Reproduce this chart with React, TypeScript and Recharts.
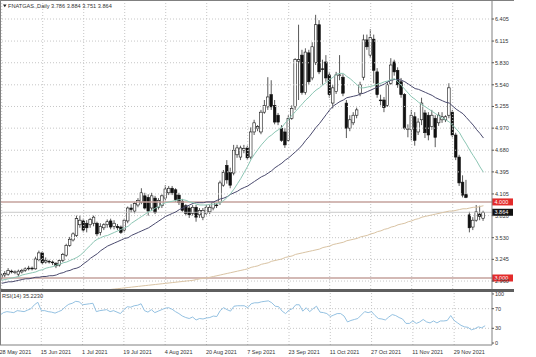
import { Bar, ComposedChart, Line, ReferenceLine, XAxis, YAxis } from "recharts"

// daily bars, 28 May 2021 .. 10 Dec 2021
const opens = [
  3.0, 3.04, 3.05, 3.09, 3.07, 3.05, 3.08, 3.1, 3.12, 3.13,
  3.12, 3.24, 3.33, 3.21, 3.22, 3.21, 3.19, 3.17, 3.23, 3.3,
  3.43, 3.5, 3.56, 3.7, 3.75, 3.72, 3.7, 3.72, 3.72, 3.6,
  3.66, 3.7, 3.75, 3.68, 3.68, 3.67, 3.63, 3.75, 3.92, 3.88,
  3.96, 3.99, 4.08, 4.06, 3.92, 4.05, 3.93, 3.95, 4.05, 4.12,
  4.18, 4.16, 4.09, 4.01, 3.95, 3.92, 3.85, 3.93, 3.83, 3.8,
  3.85, 3.87, 3.92, 3.96, 3.99, 4.22, 4.48, 4.39, 4.38, 4.62,
  4.59, 4.68, 4.71, 4.59, 4.92, 4.97, 4.92, 5.18, 5.25, 5.41,
  5.27, 5.14, 4.97, 4.92, 4.81, 5.1, 5.25, 5.85, 5.93, 5.44,
  5.96, 5.63, 5.83, 6.33, 5.75, 5.84, 5.67, 5.3, 5.45, 5.66,
  5.64, 5.3, 4.97, 5.04, 5.14, 5.43, 5.64, 6.13, 5.93, 6.14,
  5.71, 5.34, 5.34, 5.27, 5.56, 5.84, 5.73, 5.58, 5.41, 4.95,
  4.95, 5.12, 4.92, 5.08, 5.17, 5.14, 4.99, 5.1, 5.04, 5.08,
  5.08, 5.14, 5.18, 4.88, 4.59, 4.26, 4.1, 3.83, 3.67, 3.76,
  3.84, 3.786,
]
const highs = [
  3.06, 3.09, 3.13, 3.11, 3.1, 3.11, 3.12, 3.14, 3.16, 3.15,
  3.28, 3.36, 3.35, 3.27, 3.24, 3.23, 3.21, 3.25, 3.33, 3.45,
  3.54, 3.6, 3.82, 3.82, 3.78, 3.76, 3.79, 3.82, 3.74, 3.72,
  3.72, 3.77, 3.78, 3.76, 3.71, 3.69, 3.78, 3.94, 3.97, 4.0,
  4.05, 4.18, 4.12, 4.1, 4.12, 4.08, 4.05, 4.1, 4.22, 4.21,
  4.21, 4.18, 4.12, 4.04, 3.97, 3.95, 3.96, 3.96, 3.92, 3.92,
  3.96, 3.96, 4.01, 3.99, 4.28, 4.42, 4.55, 4.45, 4.75, 4.75,
  4.74, 4.75, 4.74, 4.98, 5.08, 5.01, 5.21, 5.34, 5.64, 5.6,
  5.34, 5.17, 5.01, 4.97, 5.14, 5.27, 5.89, 6.33, 6.0, 6.02,
  6.0, 6.1, 6.46, 6.39, 5.87, 5.93, 5.71, 5.54, 5.71, 5.93,
  5.68, 5.34, 5.14, 5.18, 5.24, 5.58, 6.2, 6.2, 6.27, 6.2,
  5.76, 5.41, 5.38, 5.58, 5.89, 5.87, 5.77, 5.63, 5.43, 5.02,
  5.21, 5.18, 5.1, 5.37, 5.21, 5.18, 5.21, 5.14, 5.18, 5.18,
  5.14, 5.56, 5.21, 4.91, 4.62, 4.35, 4.29, 3.87, 3.8, 3.96,
  3.95, 3.884,
]
const lows = [
  2.97, 3.01, 3.03, 3.06, 3.05, 3.02, 3.06, 3.08, 3.1, 3.1,
  3.11, 3.22, 3.18, 3.19, 3.19, 3.17, 3.13, 3.15, 3.21, 3.28,
  3.41, 3.48, 3.54, 3.66, 3.6, 3.6, 3.66, 3.68, 3.55, 3.56,
  3.63, 3.66, 3.64, 3.64, 3.63, 3.58, 3.6, 3.72, 3.86, 3.85,
  3.93, 3.97, 3.9, 3.82, 3.88, 3.84, 3.9, 3.92, 4.02, 4.09,
  4.09, 4.0, 3.96, 3.87, 3.82, 3.79, 3.82, 3.74, 3.79, 3.76,
  3.83, 3.84, 3.89, 3.92, 3.96, 4.2, 4.24, 4.18, 4.35, 4.58,
  4.55, 4.64, 4.55, 4.56, 4.88, 4.93, 4.89, 5.16, 5.21, 5.21,
  5.02, 5.01, 4.79, 4.71, 4.79, 5.08, 5.21, 5.34, 5.41, 5.41,
  5.54, 5.6, 5.8, 5.68, 5.54, 5.58, 5.37, 5.23, 5.42, 5.6,
  5.39, 4.84, 4.93, 5.01, 5.1, 5.39, 5.6, 6.0, 5.89, 5.56,
  5.37, 5.27, 5.18, 5.25, 5.54, 5.66, 5.5, 5.37, 4.95, 4.85,
  4.81, 4.74, 4.88, 5.01, 4.84, 4.81, 4.95, 4.72, 5.0, 5.04,
  5.05, 5.1, 4.85, 4.55, 4.21, 4.06, 4.05, 3.6, 3.63, 3.74,
  3.76, 3.751,
]
const closes = [
  3.04, 3.06, 3.1, 3.08, 3.08, 3.09, 3.1, 3.12, 3.13, 3.12,
  3.25, 3.33, 3.2, 3.23, 3.21, 3.2, 3.16, 3.23, 3.31, 3.43,
  3.51, 3.58, 3.78, 3.76, 3.63, 3.66, 3.77, 3.8, 3.58, 3.68,
  3.7, 3.74, 3.67, 3.72, 3.66, 3.6, 3.76, 3.92, 3.9, 3.98,
  4.02, 4.12, 3.92, 3.88, 4.08, 3.86, 4.02, 4.08, 4.17, 4.18,
  4.12, 4.03, 3.99, 3.89, 3.85, 3.83, 3.93, 3.8, 3.89, 3.89,
  3.93, 3.93, 3.99, 3.95, 4.25, 4.39, 4.29, 4.22, 4.68, 4.71,
  4.71, 4.7, 4.58, 4.92, 5.04, 4.99, 5.18, 5.27, 5.38, 5.25,
  5.05, 5.05, 4.81, 4.75, 5.1, 5.23, 5.87, 5.87, 5.44, 5.97,
  5.58, 6.04, 6.33, 5.71, 5.74, 5.63, 5.41, 5.5, 5.67, 5.67,
  5.43, 4.97, 5.08, 5.14, 5.21, 5.54, 6.13, 6.04, 6.16, 5.73,
  5.41, 5.33, 5.24, 5.54, 5.8, 5.71, 5.54, 5.41, 4.97, 4.96,
  5.14, 4.81, 5.05, 5.3, 4.91, 4.88, 5.14, 4.85, 5.14, 5.12,
  5.12, 5.5, 4.88, 4.59, 4.25, 4.09, 4.06, 3.66, 3.76, 3.87,
  3.81, 3.864,
]

// moving averages
const maFast = [
  2.97, 2.98, 2.99, 3.0, 3.01, 3.02, 3.04, 3.05, 3.06, 3.07,
  3.08, 3.1, 3.11, 3.13, 3.14, 3.15, 3.17, 3.18, 3.2, 3.21,
  3.23, 3.25, 3.27, 3.3, 3.34, 3.39, 3.43, 3.48, 3.51, 3.53,
  3.55, 3.56, 3.58, 3.6, 3.62, 3.64, 3.66, 3.68, 3.72, 3.75,
  3.78, 3.81, 3.84, 3.87, 3.89, 3.92, 3.94, 3.97, 3.99, 4.0,
  4.01, 4.02, 4.03, 4.03, 4.02, 4.0, 3.99, 3.97, 3.96, 3.96,
  3.96, 3.97, 3.97, 3.98, 3.99, 4.02, 4.06, 4.11, 4.17, 4.24,
  4.31, 4.39, 4.47, 4.56, 4.63, 4.69, 4.75, 4.8, 4.85, 4.88,
  4.92, 4.95, 4.98, 5.04, 5.09, 5.14, 5.19, 5.24, 5.29, 5.34,
  5.38, 5.43, 5.47, 5.5, 5.54, 5.57, 5.61, 5.64, 5.68, 5.69,
  5.69, 5.65, 5.62, 5.58, 5.54, 5.5, 5.5, 5.51, 5.52, 5.53,
  5.55, 5.56, 5.58, 5.59, 5.61, 5.62, 5.58, 5.53, 5.48, 5.43,
  5.38, 5.35, 5.31, 5.28, 5.25, 5.22, 5.19, 5.16, 5.13, 5.1,
  5.08, 5.05, 5.01, 4.96, 4.91, 4.83, 4.76, 4.68, 4.61, 4.54,
  4.46, 4.39,
]
const maSlow = [
  2.93, 2.94, 2.95, 2.95, 2.96, 2.97, 2.98, 2.99, 2.99, 3.0,
  3.01, 3.01, 3.02, 3.02, 3.03, 3.03, 3.04, 3.06, 3.07, 3.09,
  3.1, 3.12, 3.13, 3.15, 3.19, 3.22, 3.26, 3.29, 3.32, 3.36,
  3.39, 3.42, 3.44, 3.46, 3.48, 3.5, 3.52, 3.53, 3.56, 3.58,
  3.6, 3.62, 3.64, 3.66, 3.69, 3.72, 3.75, 3.78, 3.81, 3.83,
  3.85, 3.87, 3.9, 3.92, 3.94, 3.96, 3.98, 3.99, 3.99, 3.99,
  4.0, 4.0, 4.0, 4.02, 4.04, 4.05, 4.07, 4.1, 4.12, 4.14,
  4.17, 4.19, 4.21, 4.24, 4.27, 4.3, 4.33, 4.35, 4.38, 4.41,
  4.45, 4.48, 4.51, 4.55, 4.58, 4.62, 4.66, 4.7, 4.75, 4.81,
  4.86, 4.92, 4.98, 5.03, 5.09, 5.15, 5.21, 5.26, 5.29, 5.32,
  5.34, 5.37, 5.38, 5.39, 5.4, 5.42, 5.43, 5.45, 5.47, 5.49,
  5.51, 5.53, 5.55, 5.58, 5.6, 5.61, 5.61, 5.6, 5.58, 5.55,
  5.52, 5.49, 5.48, 5.46, 5.44, 5.42, 5.4, 5.37, 5.35, 5.33,
  5.31, 5.3, 5.26, 5.22, 5.19, 5.16, 5.11, 5.06, 5.01, 4.95,
  4.9, 4.84,
]
// long average, below the panel before late June
const ma200 = [
  null, null, null, null, null, null, null, null, null, null,
  null, null, null, null, null, null, null, null, null, null,
  null, null, null, null, null, null, null, null, 2.83, 2.835,
  2.84, 2.845, 2.85, 2.855, 2.86, 2.865, 2.87, 2.875, 2.88, 2.885,
  2.89, 2.895, 2.9, 2.905, 2.91, 2.915, 2.92, 2.925, 2.93, 2.935,
  2.94, 2.945, 2.95, 2.955, 2.96, 2.965, 2.97, 2.98, 2.99, 2.995,
  3.0, 3.01, 3.02, 3.03, 3.04, 3.05, 3.06, 3.07, 3.08, 3.09,
  3.1, 3.11, 3.12, 3.14, 3.15, 3.16, 3.18, 3.19, 3.2, 3.22,
  3.23, 3.24, 3.25, 3.27, 3.28, 3.29, 3.31, 3.32, 3.33, 3.34,
  3.35, 3.36, 3.37, 3.38, 3.4, 3.41, 3.42, 3.44, 3.45, 3.46,
  3.47, 3.49, 3.5, 3.51, 3.52, 3.54, 3.55, 3.56, 3.58, 3.59,
  3.61, 3.62, 3.64, 3.65, 3.67, 3.68, 3.7, 3.71, 3.72, 3.74,
  3.75, 3.77, 3.78, 3.8, 3.81, 3.82, 3.83, 3.84, 3.85, 3.86,
  3.87, 3.88, 3.88, 3.89, 3.9, 3.91, 3.91, 3.92, 3.93, 3.93,
  3.94, 3.95,
]
const rsi = [
  57, 62, 64, 63, 62, 66, 65, 64, 67, 70,
  78, 83, 66, 66, 64, 63, 61, 64, 67, 74,
  79, 81, 85, 84, 78, 79, 80, 81, 64, 66,
  67, 68, 64, 66, 63, 60, 68, 74, 73, 76,
  77, 80, 66, 63, 68, 62, 65, 68, 71, 72,
  69, 64, 60, 55, 52, 50, 53, 47, 50, 49,
  51, 52, 55, 54, 66, 72, 68, 65, 75, 76,
  76, 76, 72, 80, 82, 82, 84, 85, 86, 82,
  75, 74, 65, 60, 67, 70, 78, 78, 65, 72,
  64, 70, 75, 63, 62, 60, 54, 57, 60, 60,
  55, 43, 46, 48, 50, 57, 64, 62, 64, 56,
  50, 49, 47, 53, 58, 56, 52, 49, 40, 40,
  45, 40, 43, 48, 43, 41, 45, 41, 45, 45,
  46, 56, 46, 41, 36, 33, 32, 27, 29, 33,
  31, 35.223,
]

const dateLabels = [
  "28 May 2021", "15 Jun 2021", "1 Jul 2021", "19 Jul 2021", "4 Aug 2021", "20 Aug 2021",
  "7 Sep 2021", "23 Sep 2021", "11 Oct 2021", "27 Oct 2021", "11 Nov 2021", "29 Nov 2021",
]
const LABEL_STEP = 12
const labelIdx = dateLabels.map((_, k) => k * LABEL_STEP)
const priceTicks = [6.405, 6.115, 5.83, 5.54, 5.255, 4.97, 4.68, 4.395, 4.105, 3.82, 3.53, 3.245, 2.96]
const rsiTicks = [0, 30, 70, 100]
const levels = [4.0, 3.0]
const lastPrice = 3.864

const SLOTS = closes.length + 2 // chart shift on the right

const rows = Array.from({ length: SLOTS }, (_, i) =>
  i < closes.length
    ? {
        i,
        o: opens[i],
        h: highs[i],
        l: lows[i],
        c: closes[i],
        hl: [lows[i], highs[i]],
        fast: maFast[i],
        slow: maSlow[i],
        ma200: ma200[i],
        rsi: rsi[i],
      }
    : { i }
)

const GRID = "#c6c6c6"
const FRAME = "#808080"
const TXT = "#333"
const FONT = 5.5

function Candle(props: any) {
  const { x, y, width, height, payload } = props
  if (!payload || payload.h == null) return null
  const { o, h, l, c } = payload
  const k = height / (h - l || 1)
  const cx = x + width / 2
  const yO = y + (h - o) * k
  const yC = y + (h - c) * k
  const top = Math.min(yO, yC)
  const bh = Math.max(Math.abs(yO - yC), 0.7)
  const up = c >= o
  return (
    <g>
      <line x1={cx} x2={cx} y1={y} y2={y + height} stroke="#111" strokeWidth={0.7} />
      <rect x={x} y={top} width={width} height={bh} fill={up ? "#fff" : "#111"} stroke="#111" strokeWidth={0.6} />
    </g>
  )
}

function PriceTag({ viewBox, text, bg }: any) {
  if (!viewBox) return null
  const x = viewBox.x + viewBox.width
  const y = viewBox.y
  return (
    <g>
      <rect x={x} y={y - 3.5} width={21} height={7} fill={bg} />
      <text x={x + 2.5} y={y + 2} fontSize={FONT} fill="#fff">
        {text}
      </text>
    </g>
  )
}

function DateTick({ x, y, payload }: any) {
  return (
    <text x={x - 0.5} y={y + 8.5} fontSize={FONT} fill={TXT} textAnchor="start">
      {dateLabels[payload.value / LABEL_STEP]}
    </text>
  )
}

export default function App() {
  return (
    <div style={{ position: "relative", width: 536, height: 357, background: "#fff", fontFamily: "'Liberation Sans', Arial, sans-serif" }}>
      <style>{`body{margin:0}`}</style>

      <div style={{ position: "absolute", left: 0, top: 0 }}>
        <ComposedChart width={536} height={290} data={rows} margin={{ top: 1, right: 22, bottom: 1, left: 0 }}>
          <XAxis dataKey="i" hide />
          <YAxis
            orientation="right"
            type="number"
            domain={[2.8554, 6.6417]}
            allowDataOverflow
            ticks={priceTicks}
            interval={0}
            tickFormatter={(v: number) => v.toFixed(3)}
            width={22}
            tickSize={2}
            tickMargin={1}
            tick={{ fontSize: FONT, fill: TXT }}
            axisLine={{ stroke: FRAME }}
            tickLine={{ stroke: "#555" }}
          />
          {priceTicks.map((p) => (
            <ReferenceLine key={"h" + p} y={p} stroke={GRID} strokeDasharray="1 2" />
          ))}
          {labelIdx.map((i) => (
            <ReferenceLine key={"v" + i} x={i} stroke={GRID} strokeDasharray="1 2" />
          ))}
          <ReferenceLine y={lastPrice} stroke="#bdbdbd" strokeWidth={0.8} />
          {levels.map((v) => (
            <ReferenceLine key={"lv" + v} y={v} stroke="#c4a29c" strokeWidth={1.6} />
          ))}
          <Line dataKey="ma200" stroke="#d9c3a3" strokeWidth={1} dot={false} isAnimationActive={false} />
          <Line dataKey="slow" stroke="#4a4a6e" strokeWidth={1} dot={false} isAnimationActive={false} />
          <Line dataKey="fast" stroke="#8cc6b4" strokeWidth={1} dot={false} isAnimationActive={false} />
          <Bar dataKey="hl" barSize={2.6} shape={(p: any) => <Candle {...p} />} isAnimationActive={false} />
          {levels.map((v) => (
            <ReferenceLine
              key={"tag" + v}
              y={v}
              stroke="none"
              label={(p: any) => <PriceTag {...p} text={v.toFixed(3)} bg="#e32b2b" />}
            />
          ))}
          <ReferenceLine
            y={lastPrice}
            stroke="none"
            label={(p: any) => <PriceTag {...p} text={lastPrice.toFixed(3)} bg="#111" />}
          />
        </ComposedChart>
      </div>

      <div style={{ position: "absolute", left: 0, top: 289, width: 514, height: 3, background: "#5f5f5f" }} />

      <div style={{ position: "absolute", left: 0, top: 292 }}>
        <ComposedChart width={536} height={65} data={rows} margin={{ top: 0, right: 22, bottom: 0, left: 0 }}>
          <XAxis
            dataKey="i"
            ticks={labelIdx}
            interval={0}
            tick={DateTick}
            tickLine={false}
            tickSize={0}
            tickMargin={0}
            axisLine={{ stroke: FRAME }}
            height={12}
          />
          <YAxis
            orientation="right"
            type="number"
            domain={[-4, 104]}
            ticks={rsiTicks}
            interval={0}
            width={22}
            tickSize={2}
            tickMargin={1}
            tick={{ fontSize: FONT, fill: TXT }}
            axisLine={{ stroke: FRAME }}
            tickLine={{ stroke: "#555" }}
          />
          {labelIdx.map((i) => (
            <ReferenceLine key={"rv" + i} x={i} stroke={GRID} strokeDasharray="1 2" />
          ))}
          <ReferenceLine y={70} stroke={GRID} strokeDasharray="1 2" />
          <ReferenceLine y={30} stroke={GRID} strokeDasharray="1 2" />
          <Line dataKey="rsi" stroke="#88bade" strokeWidth={0.9} dot={false} isAnimationActive={false} />
        </ComposedChart>
      </div>

      <div
        style={{
          position: "absolute",
          left: 0,
          top: 0,
          width: 514,
          height: 345,
          borderLeft: `1px solid ${FRAME}`,
          borderTop: `1px solid ${FRAME}`,
          boxSizing: "border-box",
          pointerEvents: "none",
        }}
      />
      <svg width={536} height={357} style={{ position: "absolute", left: 0, top: 0, pointerEvents: "none" }}>
        <polygon points="3,4.6 6.6,4.6 4.8,7.2" fill="#222" />
        <text x={8} y={8.2} fontSize={5.6} fill={TXT}>
          FNATGAS.,Daily  3.786 3.884 3.751 3.864
        </text>
        <text x={2} y={297.6} fontSize={5.6} fill={TXT}>
          RSI(14) 35.2230
        </text>
      </svg>
    </div>
  )
}
